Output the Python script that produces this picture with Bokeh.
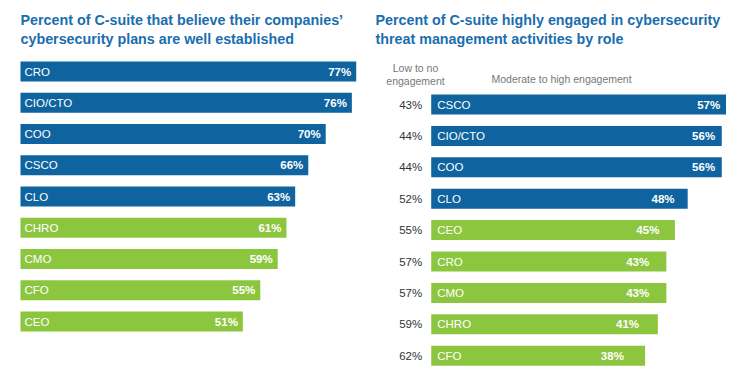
from bokeh.plotting import figure
from bokeh.layouts import row
from bokeh.models import ColumnDataSource, Range1d, Label
from bokeh.core.properties import value
from bokeh.embed import file_html
from bokeh.resources import INLINE

# ---- data ----
left_roles = ["CRO", "CIO/CTO", "COO", "CSCO", "CLO", "CHRO", "CMO", "CFO", "CEO"]
left_values = [77, 76, 70, 66, 63, 61, 59, 55, 51]
left_group = ["core", "core", "core", "core", "core", "other", "other", "other", "other"]

right_roles = ["CSCO", "CIO/CTO", "COO", "CLO", "CEO", "CRO", "CMO", "CHRO", "CFO"]
right_high = [57, 56, 56, 48, 45, 43, 43, 41, 38]
right_low = [43, 44, 44, 52, 55, 57, 57, 59, 62]
right_group = ["core", "core", "core", "core", "other", "other", "other", "other", "other"]

left_title = ["Percent of C-suite that believe their companies\u2019",
              "cybersecurity plans are well established"]
right_title = ["Percent of C-suite highly engaged in cybersecurity",
               "threat management activities by role"]
low_header = ["Low to no", "engagement"]
high_header = "Moderate to high engagement"

# ---- styles ----
BLUE = "#0f639f"
GREEN = "#8cc63f"
TITLE_BLUE = "#1a6dae"
FONT = "Liberation Sans"
H = 372
colors = {"core": BLUE, "other": GREEN}


def base_fig(w, xr, yr):
    p = figure(width=w, height=H, output_backend="svg", toolbar_location=None,
               x_range=xr, y_range=yr, min_border=0, outline_line_color=None)
    p.axis.visible = False
    p.grid.visible = False
    p.background_fill_color = "white"
    return p


def add_title(p, lines, x):
    for k, t in enumerate(lines):
        p.add_layout(Label(x=x, y=H - 19.7 - 18.8 * k, x_units="screen", y_units="screen",
                           text=t, text_font=FONT, text_font_size="14.3px",
                           text_font_style="bold", text_color=TITLE_BLUE,
                           text_baseline="alphabetic"))


# ---- left chart ----
W1 = 369
lsx = 4.36  # px per percent
l0 = 20
ly0, lstep = 71, 31.25
p1 = base_fig(W1, Range1d(-l0 / lsx, -l0 / lsx + W1 / lsx),
              Range1d(-ly0 / lstep + H / lstep, -ly0 / lstep))
src1 = ColumnDataSource(dict(
    y=list(range(len(left_roles))), v=left_values, role=left_roles,
    lab=[f"{v}%" for v in left_values], color=[colors[g] for g in left_group]))
p1.hbar(y="y", left=0, right="v", height=20 / lstep, fill_color="color", line_color=None, source=src1)
p1.text(x=0, y="y", text="role", x_offset=4, text_baseline="middle", text_align="left",
        text_color="white", text_font=value(FONT), text_font_size="11.5px", source=src1)
p1.text(x="v", y="y", text="lab", x_offset=-5, text_baseline="middle", text_align="right",
        text_color="white", text_font=value(FONT), text_font_size="11.5px",
        text_font_style="bold", source=src1)
add_title(p1, left_title, 20)

# ---- right chart ----
W2 = 362
rsx = 4.26
r0 = 113.7
bar_left = -12.2
ry0, rstep = 104, 31.4
p2 = base_fig(W2, Range1d(-r0 / rsx, -r0 / rsx + W2 / rsx),
              Range1d(-ry0 / rstep + H / rstep, -ry0 / rstep))
src2 = ColumnDataSource(dict(
    y=list(range(len(right_roles))), v=right_high, role=right_roles,
    lab=[f"{v}%" for v in right_high], low=[f"{v}%" for v in right_low],
    labx=[bar_left + 1.19 * v for v in right_high],
    color=[colors[g] for g in right_group]))
p2.hbar(y="y", left=bar_left, right="v", height=20 / rstep, fill_color="color", line_color=None, source=src2)
p2.text(x=bar_left, y="y", text="role", x_offset=6, text_baseline="middle", text_align="left",
        text_color="white", text_font=value(FONT), text_font_size="11.5px", source=src2)
p2.text(x="labx", y="y", text="lab", text_baseline="middle", text_align="right",
        text_color="white", text_font=value(FONT), text_font_size="11.5px",
        text_font_style="bold", source=src2)
p2.text(x=bar_left, y="y", text="low", x_offset=-9, text_baseline="middle", text_align="right",
        text_color="#333333", text_font=value(FONT), text_font_size="11.5px", source=src2)
add_title(p2, right_title, 6)
for k, t in enumerate(low_header):
    p2.add_layout(Label(x=46, y=H - 67 - 13 * k, x_units="screen", y_units="screen",
                        text=t, text_font=FONT, text_font_size="10.5px",
                        text_color="#777777", text_align="center", text_baseline="middle"))
p2.add_layout(Label(x=122, y=H - 78, x_units="screen", y_units="screen",
                    text=high_header, text_font=FONT, text_font_size="10.5px",
                    text_color="#777777", text_align="left", text_baseline="middle"))

layout = row(p1, p2, spacing=0)
open("out.html", "w").write(file_html(layout, INLINE))
